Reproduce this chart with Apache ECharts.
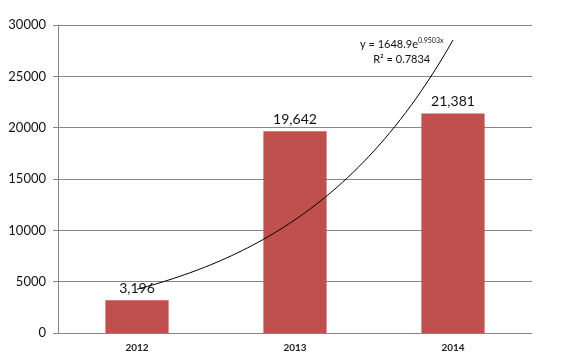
<!DOCTYPE html>
<html><head><meta charset="utf-8">
<script src="https://cdn.jsdelivr.net/npm/echarts@6/dist/echarts.min.js"></script>
<style>html,body{margin:0;padding:0;background:#fff}#c{width:564px;height:361px}</style>
</head><body><div id="c"></div>
<script>
var categories = ['2012', '2013', '2014'];
var values = [3196, 19642, 21381];
var yTicks = [0, 5000, 10000, 15000, 20000, 25000, 30000];
// Exponential trendline shown in the chart: y = a * e^(b x), x = 1..3
var trendA = 1648.9;
var trendB = 0.9503;
var trendLabel = ['y = 1648.9e', '0.9503x', 'R² = 0.7834'];

var trend = [];
for (var i = 0; i <= 60; i++) {
  var x = 1 + i * 2 / 60;
  trend.push([x, trendA * Math.exp(trendB * x)]);
}
var font = 'Lato, "Open Sans", sans-serif';
var chart = echarts.init(document.getElementById('c'), null, {renderer: 'canvas'});
chart.setOption({
  animation: false,
  grid: {left: 58, top: 25, right: 32, bottom: 28},
  xAxis: [{
    type: 'category', data: categories,
    axisLine: {lineStyle: {color: '#868686'}},
    axisTick: {lineStyle: {color: '#868686'}, length: 5},
    axisLabel: {color: '#222', fontSize: 10, fontWeight: 'bold', fontFamily: font, margin: 10}
  }, {
    type: 'value', min: 0.5, max: 3.5, show: false
  }],
  yAxis: {
    type: 'value', min: yTicks[0], max: yTicks[yTicks.length - 1], interval: 5000,
    axisLine: {show: true, lineStyle: {color: '#868686'}},
    axisTick: {show: true, lineStyle: {color: '#868686'}, length: 5},
    splitLine: {lineStyle: {color: '#868686'}},
    axisLabel: {color: '#111', fontSize: 13, fontFamily: font, margin: 12,
      formatter: function (v) { return String(v); }}
  },
  series: [{
    type: 'bar', data: values, barWidth: '40%',
    itemStyle: {color: '#C0504D'},
    label: {show: true, position: 'top', color: '#111', fontSize: 14, fontFamily: font,
      formatter: function (p) { return p.value.toLocaleString('en-US'); }}
  }, {
    type: 'line', xAxisIndex: 1, data: trend, showSymbol: false, smooth: false,
    lineStyle: {color: '#000', width: 1}, z: 5
  }],
  graphic: [{
    type: 'text', left: 360, top: 37,
    style: {
      text: '{a|' + trendLabel[0] + '}{s|' + trendLabel[1] + '}\n{b|' + trendLabel[2] + '}',
      align: 'center',
      rich: {
        a: {fontSize: 11, fontFamily: font, fill: '#111', lineHeight: 15},
        s: {fontSize: 7, fontFamily: font, fill: '#111', verticalAlign: 'top', lineHeight: 15, padding: [0,0,6,0]},
        b: {fontSize: 11, fontFamily: font, fill: '#111', lineHeight: 15, align: 'center'}
      }
    }
  }]
});
</script></body></html>
